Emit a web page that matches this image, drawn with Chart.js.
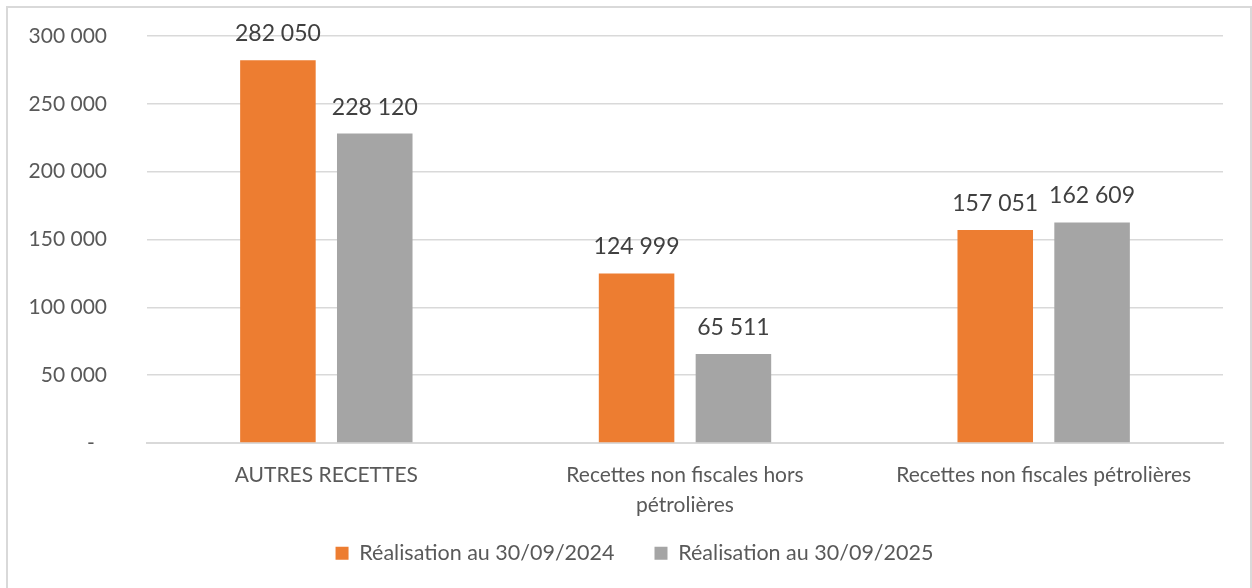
<!DOCTYPE html>
<html>
<head>
<meta charset="utf-8">
<script src="https://cdn.jsdelivr.net/npm/chart.js@4.4.1/dist/chart.umd.min.js"></script>
<style>
    html, body { margin: 0; padding: 0; background: #fff; }
    #wrap { position: relative; width: 1252px; height: 588px; overflow: hidden; }
    #frame { position: absolute; left: 6px; top: 6px; width: 1242px; height: 600px; border: 2px solid #d9d9d9; pointer-events: none; }
</style>
</head>
<body>
<div id="wrap">
    <canvas id="recettesChart"></canvas>
    <div id="frame"></div>
</div>
<script>
// Données
const categories = ['AUTRES RECETTES', ['Recettes non fiscales hors', 'pétrolières'], 'Recettes non fiscales pétrolières'];
const realisation2024 = [282050, 124999, 157051];
const realisation2025 = [228120, 65511, 162609];
const seriesLabels = ['Réalisation au 30/09/2024', 'Réalisation au 30/09/2025'];

// format "282 050"
function formatNombre(v) {
    return String(v).replace(/\B(?=(\d{3})+(?!\d))/g, ' ');
}

// étiquettes au-dessus des barres
const valeursPlugin = {
    id: 'valeurs',
    afterLayout(chart) {
        // laisser de la place aux libellés des axes (pas de coupure)
        chart.scales.x.bottom = chart.height;
        chart.scales.y.left = 0;
    },
    afterDatasetsDraw(chart) {
        const ctx = chart.ctx;
        ctx.save();
        ctx.font = '23px Lato';
        ctx.fillStyle = '#404040';
        ctx.textAlign = 'center';
        ctx.textBaseline = 'alphabetic';
        chart.data.datasets.forEach((ds, i) => {
            chart.getDatasetMeta(i).data.forEach((bar, j) => {
                ctx.fillText(formatNombre(ds.data[j]), bar.x, bar.y - 19);
            });
        });
        ctx.restore();
    }
};

const ctx = document.getElementById('recettesChart').getContext('2d');
const recettesChart = new Chart(ctx, {
    type: 'bar',
    data: {
        labels: categories,
        datasets: [{
            label: seriesLabels[0],
            data: realisation2024,
            backgroundColor: '#ED7D31'
        },
        {
            label: seriesLabels[1],
            data: realisation2025,
            backgroundColor: '#A5A5A5'
        }]
    },
    options: {
        responsive: true,
        maintainAspectRatio: false,
        animation: false,
        datasets: {
            bar: {
                categoryPercentage: 0.54,
                barPercentage: 0.78
            }
        },
        layout: {
            padding: { left: 46, right: 29, top: 36, bottom: 14 }
        },
        scales: {
            y: {
                min: 0,
                max: 300000,
                ticks: {
                    stepSize: 50000,
                    color: '#595959',
                    font: { family: 'Lato', size: 21 },
                    padding: 40,
                    callback: (v) => v === 0 ? '-\u2007' : formatNombre(v)
                },
                grid: { color: '#d9d9d9', lineWidth: 1.5, drawTicks: false },
                border: { display: false },
                afterFit: (scale) => {
                    scale.width = 101;
                    scale.paddingTop = 0;
                    scale.paddingBottom = 0;
                }
            },
            x: {
                ticks: {
                    color: '#595959',
                    font: { family: 'Lato', size: 21, lineHeight: 1.45 },
                    padding: 17,
                    maxRotation: 0
                },
                grid: { display: false, drawTicks: false },
                border: { display: true, color: '#d9d9d9', width: 2 },
                afterFit: (scale) => { scale.height = 59.5; }
            }
        },
        plugins: {
            legend: {
                position: 'bottom',
                labels: {
                    color: '#595959',
                    font: { family: 'Lato', size: 21.5 },
                    boxWidth: 13,
                    boxHeight: 13,
                    padding: 40
                }
            },
            tooltip: { enabled: false }
        }
    },
    plugins: [valeursPlugin]
});
</script>
</body>
</html>
